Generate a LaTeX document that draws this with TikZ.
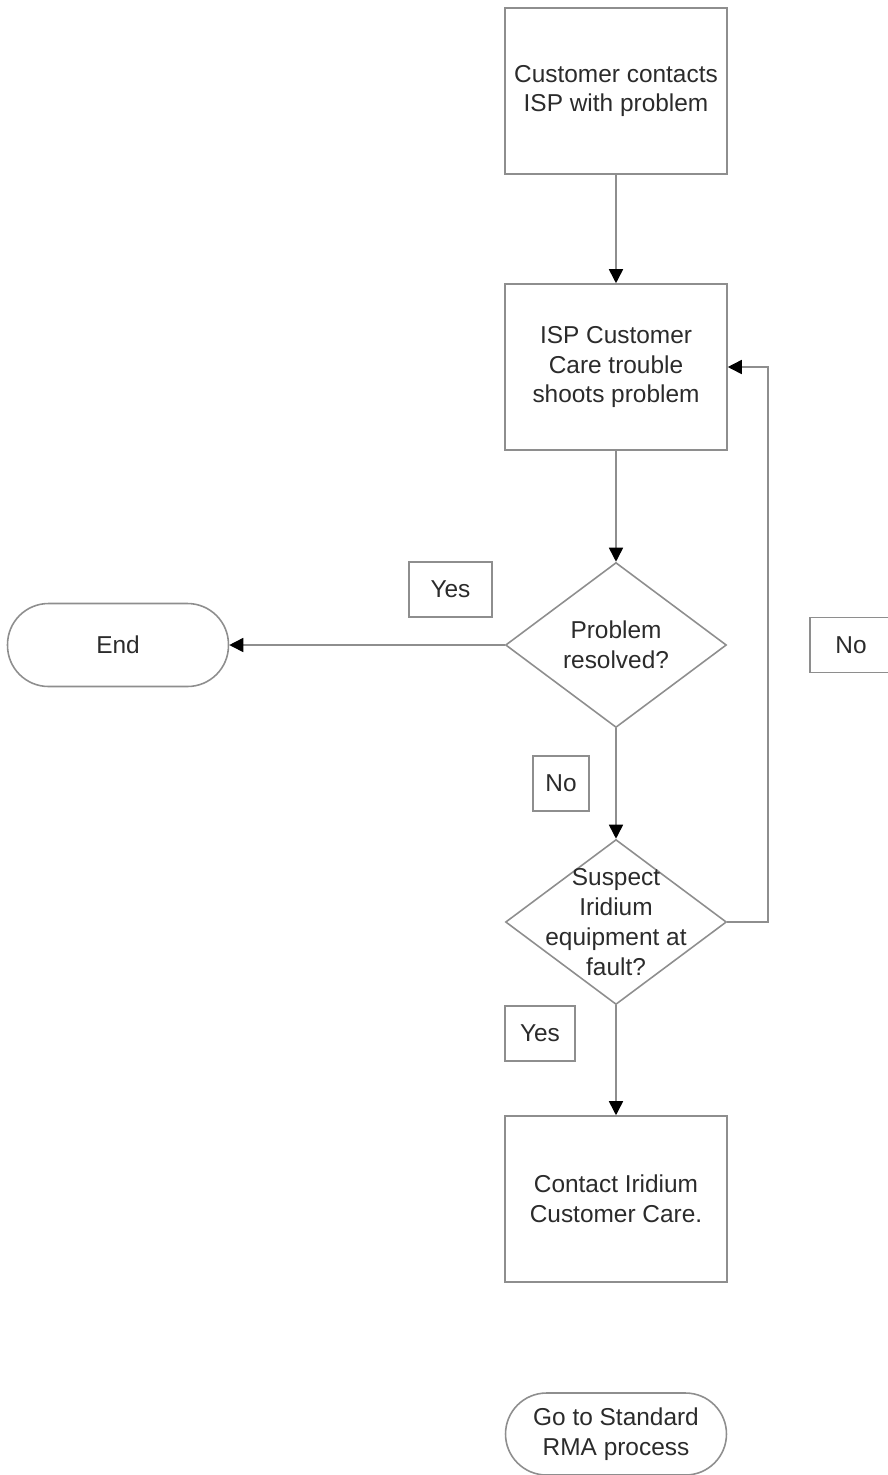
\documentclass[tikz,border=0pt]{standalone}
\usepackage{fontspec}
\setmainfont{Liberation Sans}
\usetikzlibrary{shapes.geometric,arrows.meta}
\definecolor{linegray}{HTML}{8E8E8E}
\definecolor{textgray}{HTML}{2B2B2B}
\begin{document}
\begin{tikzpicture}[x=0.02cm, y=-0.02cm,
		every node/.style={font=\fontsize{13.9}{17}\selectfont, text=textgray, align=center},
		process/.style={draw=linegray, line width=0.9pt, minimum width=4.44cm, minimum height=3.32cm, inner sep=0pt},
		decision/.style={draw=linegray, line width=0.9pt, diamond, minimum width=4.42cm, minimum height=3.3cm, inner sep=0pt},
		terminal/.style={draw=linegray, line width=0.9pt, rounded corners=0.82cm, minimum width=4.42cm, minimum height=1.66cm, inner sep=0pt},
		tag/.style={draw=linegray, line width=0.9pt, minimum height=1.1cm, inner sep=0pt},
		flow/.style={draw=linegray, line width=0.9pt, -{Triangle[color=black, length=0.28cm, width=0.28cm]}}]

		\useasboundingbox (0,0) rectangle (887,1475);

		\node[process] (contacts) at (616,91) {Customer contacts\\ISP with problem};
		\node[process] (care) at (616,367) {ISP Customer\\Care trouble\\shoots problem};
		\node[decision, label={center:Problem\\resolved?}] (resolved) at (616,645) {};
		\node[terminal] (end) at (118,645) {End};
		\node[decision, label={center:Suspect\\Iridium\\equipment at\\fault?}] (suspect) at (616,922) {};
		\node[process] (contact) at (616,1199) {Contact Iridium\\Customer Care.};
		\node[terminal, minimum height=1.64cm] (rma) at (616,1434) {Go to Standard\\RMA process};

		\foreach \x/\y/\w/\t [count=\i] in {450.5/589.5/1.66/Yes, 851/645/1.64/No, 561/783.5/1.12/No, 540/1033.5/1.4/Yes}
		\node[tag, minimum width=\w cm] (tag\i) at (\x,\y) {\t};

		\draw[flow] (contacts) -- (care);
		\draw[flow] (care) -- (resolved);
		\draw[flow] (resolved) -- (end);
		\draw[flow] (resolved) -- (suspect);
		\draw[flow] (suspect.east) -- ++(41,0) |- (care.east);
		\draw[flow] (suspect) -- (contact);
	\end{tikzpicture}
\end{document}
